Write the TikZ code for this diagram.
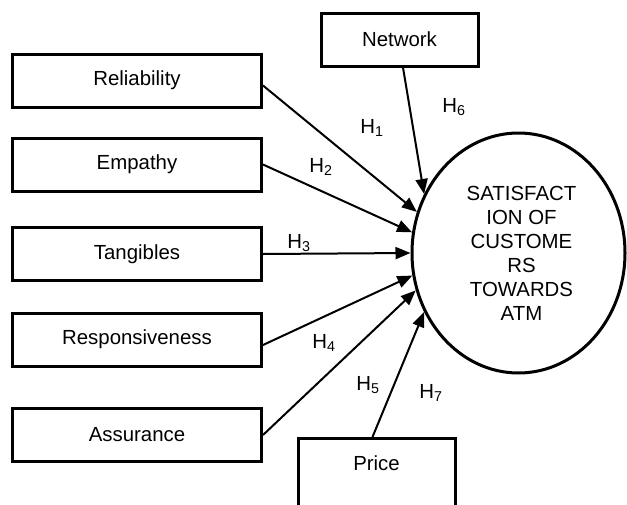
\documentclass[tikz,border=0pt]{standalone}
\usepackage{fontspec}
\setmainfont{Liberation Sans}
\usetikzlibrary{shapes.geometric,arrows.meta}
\begin{document}
\begin{tikzpicture}[x=1pt,y=-1pt,
  fbox/.style={draw,line width=3pt,minimum width=249pt,minimum height=53pt,inner sep=0pt,font=\fontsize{20.4}{24}\selectfont},
  tbox/.style={draw,line width=3pt,minimum width=157pt,minimum height=53pt,inner sep=0pt,font=\fontsize{20.4}{24}\selectfont},
  conn/.style={line width=2pt,-{Triangle[length=15pt,width=12pt]}},
  hlab/.style={inner sep=0pt,font=\fontsize{20.4}{24}\selectfont}]
\useasboundingbox (0,0) rectangle (627,504);
\clip (0,0) rectangle (627,504);
\node[fbox] (rel) at (137,80.5) {Reliability};
\node[fbox] (emp) at (137,164.5) {Empathy};
\node[fbox] (tan) at (137,254) {Tangibles};
\node[fbox] (resp) at (137,339.5) {Responsiveness};
\node[fbox] (ass) at (137,435) {Assurance};
\node[tbox] (net) at (399.5,39.5) {Network};
\node[draw,line width=3pt,minimum width=157pt,inner sep=0pt,anchor=north,text height=32pt,text depth=60pt,font=\fontsize{20.4}{24}\selectfont] (price) at (376.5,437) {Price};
\node[ellipse,draw,line width=3pt,minimum width=213pt,minimum height=240pt,inner sep=0pt,align=center,font=\fontsize{20.4}{24}\selectfont] (sat) at (518.5,253) {\hspace*{6pt}SATISFACT\\\hspace*{6pt}ION OF\\\hspace*{6pt}CUSTOME\\\hspace*{6pt}RS\\\hspace*{6pt}TOWARDS\\\hspace*{6pt}ATM};
\draw[conn] ([yshift=-5pt]rel.east) -- (sat.158);
\draw[conn] (emp.east) -- (sat.169);
\draw[conn] (tan.east) -- (sat.180);
\draw[conn] ([yshift=-5.5pt]resp.east) -- (sat.192);
\draw[conn] (ass.east) -- (sat.200);
\draw[conn] ([xshift=3.5pt]net.south) -- (sat.148);
\draw[conn] ([xshift=-4pt]price.north) -- (sat.212);
\node[hlab] (h1) at (372,128) {H\textsubscript{1}};
\node[hlab] (h2) at (321,167) {H\textsubscript{2}};
\node[hlab] (h3) at (299,243) {H\textsubscript{3}};
\node[hlab] (h4) at (324,343) {H\textsubscript{4}};
\node[hlab] (h5) at (368,385) {H\textsubscript{5}};
\node[hlab] (h6) at (454,107) {H\textsubscript{6}};
\node[hlab] (h7) at (431,393) {H\textsubscript{7}};
\end{tikzpicture}
\end{document}
